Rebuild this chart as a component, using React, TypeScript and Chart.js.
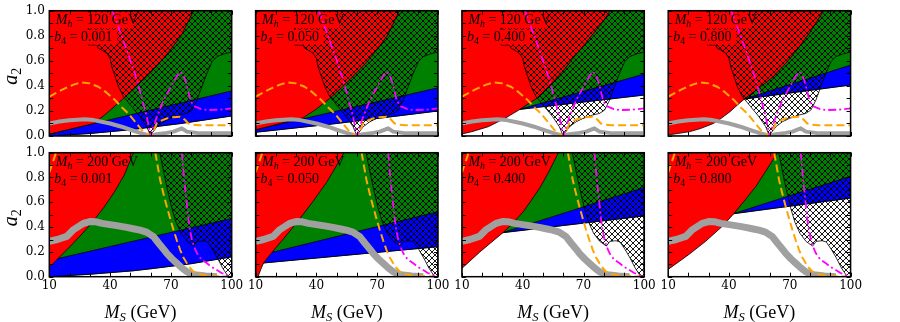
import React, { useEffect, useRef } from 'react';
import { Chart, registerables } from 'chart.js';
Chart.register(...registerables);

const FIG_W = 900;
const FIG_H = 322;
const COL_LEFT = [49.3, 255.6, 461.9, 668.2];
const PLOT_W = 182.4;
const ROW_TOP = [10.7, 152.7];
const PLOT_H = [125.3, 124];

const MH_LABELS = ['120', '200'];
const B4_LABELS = ['0.001', '0.050', '0.400', '0.800'];
const X_TICKS = [10, 20, 30, 40, 50, 60, 70, 80, 90, 100];
const X_TICK_LABELS = [10, 40, 70, 100];
const Y_TICKS = [0, 0.1, 0.2, 0.3, 0.4, 0.5, 0.6, 0.7, 0.8, 0.9, 1.0];
const Y_TICK_LABELS = [0, 0.2, 0.4, 0.6, 0.8, 1.0];

const COLORS = {
  red: '#ff0000',
  green: '#008000',
  blue: '#0000ff',
  white: '#ffffff',
  orange: '#ffa500',
  magenta: '#ff00ff',
  gray: '#a0a0a0',
};

const FULL_RECT = [[10, 0], [100, 0], [100, 1], [10, 1]];

// ---- Top row (M_h = 120 GeV) shared curves ----
const TOP_HATCH = [[29.3, 1], [29.3, 0.726], [33.4, 0.726], [34.2, 0.7], [35.9, 0.686], [38.4, 0.66], [40, 0.62], [40.8, 0.553], [42.5, 0.473], [44.1, 0.394], [46.6, 0.314], [50.7, 0.234], [54.8, 0.154], [58.1, 0.074], [60, 0], [60.6, 0.02], [63.1, 0.074], [66.4, 0.114], [69.7, 0.14], [74.6, 0.168], [77.9, 0.18], [80.4, 0.207], [82.9, 0.287], [85.3, 0.394], [87.8, 0.5], [90.3, 0.593], [92.7, 0.633], [96, 0.654], [100, 0.67], [100, 1]];
const TOP_ORANGE = [[10, 0.314], [14, 0.35], [17.7, 0.38], [22, 0.41], [26, 0.428], [30, 0.42], [34.2, 0.393], [38, 0.35], [42.4, 0.287], [46, 0.225], [49, 0.18], [52, 0.12], [55.6, 0.048], [58, 0.02], [60, 0], [61.5, 0.04], [63, 0.1], [65.5, 0.125], [67.9, 0.14], [71, 0.15], [74.5, 0.154], [77, 0.128], [78.6, 0.1], [81, 0.09], [84, 0.085], [100, 0.085]];
const TOP_MAGENTA = [[41.1, 1], [45, 0.83], [48.2, 0.686], [50.7, 0.57], [53.2, 0.447], [55.7, 0.3], [58.1, 0.154], [60, 0], [61.5, 0.08], [63.1, 0.154], [66.4, 0.287], [70.5, 0.407], [73, 0.48], [74.6, 0.513], [76, 0.49], [77.1, 0.447], [78.4, 0.37], [79.6, 0.287], [81, 0.245], [82, 0.234], [85, 0.215], [87.8, 0.207], [94, 0.21], [100, 0.22]];
const TOP_GRAY = [[10, 0.1], [15, 0.115], [20, 0.125], [27.6, 0.133], [32, 0.127], [35.9, 0.114], [40, 0.1], [45.7, 0.074], [50, 0.05], [55.6, 0.021], [60, 0.003], [63, 0.015], [68, 0.025], [71.3, 0.035], [75.4, 0.061], [77.9, 0.035], [84.5, 0.021], [100, 0.021]];

// ---- Bottom row (M_h = 200 GeV) shared curves ----
const BOT_HATCH = [[64.5, 1], [66, 0.88], [67.5, 0.76], [69, 0.65], [70.5, 0.55], [72.5, 0.44], [75, 0.35], [78, 0.285], [81.3, 0.247], [83, 0.285], [86, 0.29], [88, 0.28], [90.5, 0.22], [93, 0.15], [95.5, 0.07], [98.3, 0], [100, 0], [100, 1]];
const BOT_ORANGE = [[62.3, 1], [63.5, 0.89], [64.7, 0.78], [66.3, 0.67], [68, 0.565], [69.7, 0.465], [71.3, 0.376], [73, 0.29], [74.6, 0.215], [76.2, 0.155], [77.9, 0.108], [79.5, 0.07], [81.2, 0.04], [83.5, 0.022], [86.2, 0.013], [92, 0.004], [100, 0]];
const BOT_ORANGE_CORNER = [[10, 0.84], [11.2, 0.9], [12.5, 0.96], [13.3, 1]];
const BOT_MAGENTA = [[75.4, 1], [76.2, 0.85], [77.1, 0.7], [78, 0.57], [78.7, 0.457], [79.5, 0.37], [80.4, 0.296], [81.5, 0.24], [82.9, 0.188], [85, 0.14], [87.8, 0.108], [90, 0.08], [92.7, 0.054], [95, 0.03], [97.7, 0.013], [100, 0]];
const BOT_GRAY = [[10, 0.285], [14, 0.3], [18.6, 0.325], [22, 0.38], [26.8, 0.43], [30, 0.445], [32.6, 0.444], [36, 0.43], [40, 0.42], [44, 0.41], [48.2, 0.398], [52, 0.385], [54.8, 0.376], [58, 0.36], [61.4, 0.323], [63, 0.29], [64.7, 0.255], [66.5, 0.22], [68, 0.188], [70.5, 0.145], [73, 0.108], [75.5, 0.07], [77.9, 0.04], [80, 0.022], [82.9, 0.013], [87, 0.005], [92.7, 0]];

// ---- Per-panel regions ----
const T1_WHITE = [[10, 0], [30, 0.02], [50, 0.05], [75, 0.1], [100, 0.16], [100, 0]];
const T1_BLUE = [[10, 0], [30, 0.02], [50, 0.05], [75, 0.1], [100, 0.16], [100, 0.36], [10, 0.015]];
const T1_RED = [[10, 1], [10, 0.015], [32, 0.1], [36, 0.15], [40, 0.205], [46.6, 0.3], [52, 0.38], [58, 0.473], [64, 0.575], [69.7, 0.686], [75, 0.8], [81.2, 1]];

const T2_WHITE = [[10, 0], [10, 0.03], [50, 0.1], [100, 0.2], [100, 0]];
const T2_BLUE = [[10, 0.03], [50, 0.1], [100, 0.2], [100, 0.385], [10, 0.05]];
const T2_RED = [[10, 1], [10, 0.05], [33.5, 0.146], [40, 0.215], [46.6, 0.3], [52, 0.38], [58, 0.473], [64, 0.575], [69.7, 0.686], [75, 0.8], [81, 1]];

const T3_WHITE = [[10, 0], [10, 0.16], [38.7, 0.213], [100, 0.327], [100, 0]];
const T3_BLUE = [[38.7, 0.213], [100, 0.327], [100, 0.495]];
const T3_RED = [[10, 1], [10, 0.016], [14.8, 0.034], [23, 0.074], [31.3, 0.141], [38.7, 0.213], [46.9, 0.3], [53.5, 0.407], [60, 0.52], [65, 0.625], [70, 0.72], [75, 0.82], [80, 0.92], [83.2, 1]];

const T4_WHITE = [[10, 0], [10, 0.213], [47.9, 0.295], [100, 0.407], [100, 0]];
const T4_BLUE = [[47.9, 0.297], [100, 0.407], [100, 0.566]];
const T4_RED = [[10, 1], [10, 0.008], [20.7, 0.035], [26, 0.06], [32.3, 0.1], [36.5, 0.145], [40.5, 0.194], [44, 0.245], [47.9, 0.3], [55, 0.385], [61.9, 0.473], [68, 0.58], [73.5, 0.686], [80, 0.83], [86.7, 1]];

const B1_WHITE = [[10, 0], [30, 0.02], [51.5, 0.048], [62, 0.068], [80, 0.105], [100, 0.16], [100, 0]];
const B1_BLUE = [[10, 0], [30, 0.02], [51.5, 0.048], [62, 0.068], [80, 0.105], [100, 0.16], [100, 0.47], [10, 0.13]];
const B1_RED = [[10, 1], [10, 0.075], [14.4, 0.148], [21, 0.256], [27, 0.36], [32, 0.455], [37, 0.56], [42, 0.68], [47, 0.82], [51.5, 1]];

const B2_WHITE = [[10, 0], [10, 0.105], [100, 0.242], [100, 0]];
const B2_BLUE = [[10, 0.105], [100, 0.242], [100, 0.524], [10, 0.164]];
const B2_RED = [[10, 1], [10, 0], [11.2, 0], [12.6, 0.06], [14, 0.113], [18, 0.195], [24, 0.31], [31, 0.45], [38, 0.6], [45, 0.76], [53.7, 1]];

const B3_WHITE = [[10, 0], [10, 0.315], [30.4, 0.355], [100, 0.49], [100, 0]];
const B3_BLUE = [[30.4, 0.357], [100, 0.49], [100, 0.72]];
const B3_RED = [[10, 1], [10, 0.067], [18.9, 0.2], [24, 0.27], [30.4, 0.357], [35, 0.43], [40.3, 0.524], [44, 0.61], [48.6, 0.72], [53, 0.85], [57.6, 1]];

const B4_WHITE = [[10, 0], [10, 0.437], [42.5, 0.508], [100, 0.634], [100, 0]];
const B4_BLUE = [[42.5, 0.51], [100, 0.634], [100, 0.81]];
const B4_RED = [[10, 1], [10, 0.059], [20.2, 0.179], [28.5, 0.286], [36.7, 0.406], [42.5, 0.51], [48, 0.62], [53.2, 0.727], [58.5, 0.86], [63.9, 1]];

const PANELS = [
  { row: 0, col: 0, white: T1_WHITE, blue: T1_BLUE, red: T1_RED },
  { row: 0, col: 1, white: T2_WHITE, blue: T2_BLUE, red: T2_RED },
  { row: 0, col: 2, white: T3_WHITE, blue: T3_BLUE, red: T3_RED },
  { row: 0, col: 3, white: T4_WHITE, blue: T4_BLUE, red: T4_RED },
  { row: 1, col: 0, white: B1_WHITE, blue: B1_BLUE, red: B1_RED },
  { row: 1, col: 1, white: B2_WHITE, blue: B2_BLUE, red: B2_RED },
  { row: 1, col: 2, white: B3_WHITE, blue: B3_BLUE, red: B3_RED },
  { row: 1, col: 3, white: B4_WHITE, blue: B4_BLUE, red: B4_RED },
];

const SERIF = '"Liberation Serif", "DejaVu Serif", serif';
const NUM_FONT = '12px "DejaVu Serif", serif';

function makeHatch() {
  const s = 6;
  const c = document.createElement('canvas');
  c.width = s;
  c.height = s;
  const g = c.getContext('2d');
  g.fillStyle = 'rgba(0,0,0,0.9)';
  for (let i = 0; i < s; i++) {
    g.fillRect(i, i, 1, 1);
    if (s - 1 - i !== i) g.fillRect(s - 1 - i, i, 1, 1);
  }
  return g.createPattern(c, 'repeat');
}

function drawRich(ctx, segs, x, y, size, align) {
  const parts = segs.map(([t, st]) => {
    const sub = st.includes('s');
    const it = st.includes('i');
    const fs = sub ? size * 0.7 : size;
    const font = `${it ? 'italic ' : ''}${fs}px ${SERIF}`;
    ctx.font = font;
    return { t, font, w: ctx.measureText(t).width, dy: sub ? size * 0.22 : 0 };
  });
  const total = parts.reduce((a, p) => a + p.w, 0);
  let cx = align === 'center' ? x - total / 2 : align === 'right' ? x - total : x;
  ctx.textAlign = 'left';
  ctx.textBaseline = 'alphabetic';
  for (const p of parts) {
    ctx.font = p.font;
    ctx.fillText(p.t, cx, y + p.dy);
    cx += p.w;
  }
}

function Panel({ cfg }) {
  const ref = useRef(null);
  useEffect(() => {
    const { row, col } = cfg;
    const top = row === 0;
    const hatch = makeHatch();
    const L = COL_LEFT[col];
    const T = ROW_TOP[row];
    const PH = PLOT_H[row];
    const xy = (pts) => pts.map(([x, y]) => ({ x, y }));
    const poly = (label, pts, bg, order, bw = 0.8) => ({
      label,
      data: xy([...pts, pts[0]]),
      showLine: true,
      fill: 'shape',
      backgroundColor: bg,
      borderColor: bw ? '#000' : 'rgba(0,0,0,0)',
      borderWidth: bw,
      pointRadius: 0,
      pointHoverRadius: 0,
      order,
    });
    const curve = (label, pts, color, width, dash, order) => ({
      label,
      data: xy(pts),
      showLine: true,
      fill: false,
      borderColor: color,
      backgroundColor: color,
      borderWidth: width,
      borderDash: dash,
      borderCapStyle: 'butt',
      borderJoinStyle: 'round',
      pointRadius: 0,
      pointHoverRadius: 0,
      order,
    });
    const datasets = [
      poly('green', FULL_RECT, COLORS.green, 20, 0),
      poly('white', cfg.white, COLORS.white, 19),
      poly('blue', cfg.blue, COLORS.blue, 18),
      poly('red', cfg.red, COLORS.red, 17),
      poly('hatch', top ? TOP_HATCH : BOT_HATCH, hatch, 16),
      curve('gray', top ? TOP_GRAY : BOT_GRAY, COLORS.gray, top ? 4 : 7, [], 15),
      curve('orange', top ? TOP_ORANGE : BOT_ORANGE, COLORS.orange, 2, [8, 4], 14),
      curve('magenta', top ? TOP_MAGENTA : BOT_MAGENTA, COLORS.magenta, 1.8, [8, 3, 2, 3], 12),
    ];
    if (!top) datasets.push(curve('orange2', BOT_ORANGE_CORNER, COLORS.orange, 2, [8, 4], 13));

    const deco = {
      id: 'deco',
      afterDatasetDraw(chart, args) {
        if (!top) return;
        if (chart.data.datasets[args.index].label !== 'hatch') return;
        const { ctx, chartArea: a } = chart;
        ctx.save();
        ctx.fillStyle = COLORS.red;
        ctx.fillRect(a.left + 5, a.top + 1.5, 79, 16);
        ctx.fillRect(a.left + 4, a.top + 19, 64, 15);
        ctx.restore();
      },
      afterDraw(chart) {
        const { ctx, chartArea: a } = chart;
        const xs = chart.scales.x;
        const ys = chart.scales.y;
        ctx.save();
        // annotation
        ctx.fillStyle = '#000';
        drawRich(ctx, [['M', 'i'], ['h', 'is'], [' = ' + MH_LABELS[row] + ' GeV', '']], a.left + 6.5, a.top + 13.5, 14, 'left');
        drawRich(ctx, [['b', 'i'], ['4', 's'], [' = ' + B4_LABELS[col], '']], a.left + 5, a.top + 30.5, 14, 'left');
        // ticks
        ctx.strokeStyle = '#000';
        ctx.lineWidth = 1;
        ctx.beginPath();
        for (const v of X_TICKS) {
          const px = Math.round(xs.getPixelForValue(v)) + 0.5;
          ctx.moveTo(px, a.bottom);
          ctx.lineTo(px, a.bottom - 4);
          ctx.moveTo(px, a.top);
          ctx.lineTo(px, a.top + 4);
        }
        for (const v of Y_TICKS) {
          const py = Math.round(ys.getPixelForValue(v)) + 0.5;
          ctx.moveTo(a.left, py);
          ctx.lineTo(a.left + 4, py);
          ctx.moveTo(a.right, py);
          ctx.lineTo(a.right - 4, py);
        }
        ctx.stroke();
        // frame
        ctx.lineWidth = 1.5;
        ctx.strokeRect(a.left, a.top, a.right - a.left, a.bottom - a.top);
        // tick labels
        ctx.fillStyle = '#000';
        ctx.font = NUM_FONT;
        if (col === 0) {
          ctx.textAlign = 'right';
          ctx.textBaseline = 'middle';
          for (const v of Y_TICK_LABELS) ctx.fillText(v.toFixed(1), a.left - 4.5, ys.getPixelForValue(v));
          ctx.save();
          ctx.translate(16.5, (a.top + a.bottom) / 2 + 3);
          ctx.rotate(-Math.PI / 2);
          drawRich(ctx, [['a', 'i'], ['2', 's']], 0, 0, 20, 'center');
          ctx.restore();
        }
        if (row === 1) {
          ctx.font = NUM_FONT;
          ctx.textAlign = 'center';
          ctx.textBaseline = 'top';
          for (const v of X_TICK_LABELS) ctx.fillText(String(v), xs.getPixelForValue(v), a.bottom + 3);
          drawRich(ctx, [['M', 'i'], ['S', 'is'], [' (GeV)', '']], (a.left + a.right) / 2, 317.5, 18, 'center');
        }
        ctx.restore();
      },
    };

    const chart = new Chart(ref.current, {
      type: 'scatter',
      data: { datasets },
      options: {
        animation: false,
        responsive: false,
        devicePixelRatio: 1,
        events: [],
        layout: { padding: { left: L, top: T, right: FIG_W - L - PLOT_W, bottom: FIG_H - T - PH } },
        scales: {
          x: { type: 'linear', min: 10, max: 100, display: false },
          y: { type: 'linear', min: 0, max: 1, display: false },
        },
        plugins: { legend: { display: false }, tooltip: { enabled: false } },
      },
      plugins: [deco],
    });
    return () => chart.destroy();
  }, [cfg]);
  return <canvas ref={ref} width={FIG_W} height={FIG_H} style={{ position: 'absolute', left: 0, top: 0 }} />;
}

export default function App() {
  return (
    <div style={{ position: 'fixed', left: 0, top: 0, width: FIG_W, height: FIG_H, background: '#fff' }}>
      {PANELS.map((p, i) => (
        <Panel key={i} cfg={p} />
      ))}
    </div>
  );
}
